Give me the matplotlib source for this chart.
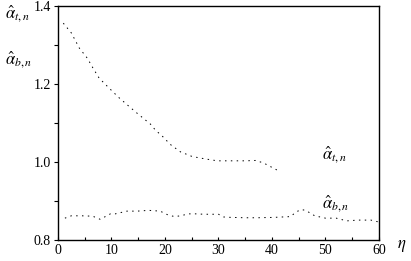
import matplotlib
matplotlib.use('Agg')
import matplotlib.pyplot as plt
from matplotlib.ticker import MultipleLocator

plt.rcParams['font.family'] = ['Liberation Serif', 'DejaVu Serif']
plt.rcParams['mathtext.fontset'] = 'stix'

# alpha_t,n curve
n_t = [1, 2.5, 4, 5.5, 6.5, 7.7, 9.6, 11.4, 13, 14.8, 17.3, 18.2, 19.6, 21,
       22.9, 25.1, 27.5, 29.8, 35.1, 37, 38.5, 41]
alpha_t = [1.356, 1.331, 1.292, 1.266, 1.242, 1.215, 1.189, 1.165, 1.146, 1.125,
           1.097, 1.082, 1.065, 1.045, 1.026, 1.014, 1.008, 1.003, 1.003, 1.004,
           0.997, 0.979]

# alpha_b,n curve
n_b = [1.3, 2.5, 4.5, 6.5, 7.9, 9.8, 10.7, 12.9, 14.8, 17, 19.1, 20.6, 21.8,
       22.9, 24.4, 26, 27.2, 30, 31, 32.3, 35, 37.3, 40.4, 43.5, 44.5, 45.5,
       46.3, 48, 50, 52, 54, 56, 58.5, 60]
alpha_b = [0.856, 0.862, 0.862, 0.861, 0.853, 0.867, 0.867, 0.874, 0.874, 0.876,
           0.874, 0.864, 0.860, 0.862, 0.867, 0.867, 0.866, 0.866, 0.859, 0.858,
           0.857, 0.857, 0.858, 0.860, 0.872, 0.878, 0.876, 0.862, 0.856, 0.856,
           0.849, 0.851, 0.851, 0.846]

x_ticks = [0, 10, 20, 30, 40, 50, 60]
y_ticks = [0.8, 1.0, 1.2, 1.4]

fig = plt.figure(figsize=(4.11, 2.61), dpi=100)
ax = fig.add_axes([0.141, 0.0805, 0.781, 0.8965])

ax.plot(n_t, alpha_t, c='black', lw=0.7, ls=(0, (1.5, 4.5)))
ax.plot(n_b, alpha_b, c='black', lw=0.7, ls=(0, (1.5, 4.5)))

ax.set_xlim(0, 60)
ax.set_ylim(0.8, 1.4)
ax.set_xticks(x_ticks)
ax.set_yticks(y_ticks)
ax.set_xticklabels([str(v) for v in x_ticks])
ax.set_yticklabels([f'{v:.1f}' for v in y_ticks])
ax.xaxis.set_minor_locator(MultipleLocator(5))
ax.yaxis.set_minor_locator(MultipleLocator(0.1))
ax.tick_params(axis='x', which='both', direction='in', length=2.5, width=0.8,
               labelsize=10, pad=3)
ax.tick_params(axis='y', which='both', direction='out', length=3, width=0.8,
               labelsize=10, pad=2)
for s in ax.spines.values():
    s.set_linewidth(1.0)

ax.text(49.3, 1.017, r'$\hat{\alpha}_{t,n}$', fontsize=12, ha='left', va='center')
ax.text(49.3, 0.89, r'$\hat{\alpha}_{b,n}$', fontsize=12, ha='left', va='center')

fig.text(0.012, 0.945, r'$\hat{\alpha}_{t,n}$', fontsize=12, ha='left', va='center')
fig.text(0.012, 0.77, r'$\hat{\alpha}_{b,n}$', fontsize=12, ha='left', va='center')
fig.text(0.967, 0.058, r'$\eta$', fontsize=12, ha='left', va='center')

fig.savefig('out.png', dpi=100, facecolor='w')
